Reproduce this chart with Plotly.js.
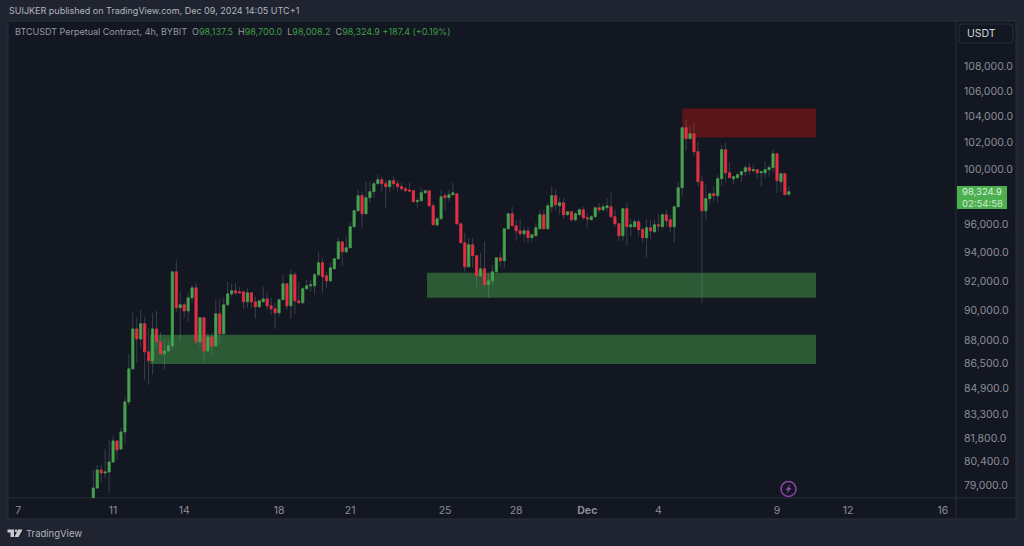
<!DOCTYPE html>
<html>
<head>
<meta charset="utf-8">
<script src="https://cdn.plot.ly/plotly-3.0.1.min.js"></script>
<style>html,body{margin:0;padding:0;background:#1f2430;overflow:hidden}#chart{width:1024px;height:546px}</style>
</head>
<body>
<div id="chart"></div>
<script>
// 4h candles, first one opens 10 Nov 2024 04:00
var firstCandle = Date.UTC(2024, 10, 10, 4);
var candleHours = 4;

var opens = [77830,78820,79890,79710,79770,80370,81640,81150,82190,84050,86150,88760,88100,89100,87250,86670,88760,87900,87120,87310,
87640,92620,90170,90370,89960,90840,91520,87900,89500,87310,88230,87640,89760,88430,90370,91110,91320,91250,91250,90570,
91180,90570,90230,90570,90770,90300,90100,89830,90710,91800,90300,92420,90640,90500,91460,91660,91660,92420,93250,92350,
92000,92830,93530,94720,94020,94300,95790,96940,98040,96720,97890,98330,98920,99210,98920,98700,99140,98920,98700,98550,
98450,98400,97600,97670,98250,98400,97300,95930,96360,98040,97890,98110,98180,96000,94650,92970,94510,93740,92350,92830,
91730,92000,92620,93600,93390,95650,96720,95860,95500,95290,95500,95010,95150,95650,96650,95650,97230,98040,97300,97520,
96650,96870,96290,96650,97010,96440,96290,96510,97160,97010,97160,97230,96510,96000,95150,97090,95790,95790,96150,95580,
95010,95720,95430,95930,95790,96650,96290,95790,97230,98620,103140,102300,102680,101310,99070,96940,97820,98180,98040,99290,
101460,99730,99290,99360,99580,99810,100110,99880,99960,99730,99730,99960,100110,101160,99070,99660,98137.5];
var highs = [79890,80190,80190,81150,81700,81940,81640,82430,84370,87120,89830,89560,90030,89560,88830,89830,89960,88560,88170,88100,
92620,93390,91250,90570,91180,91730,91860,89500,89500,88500,88500,90710,90770,90840,91930,91800,91860,91590,91250,91520,
91180,90910,90640,91590,91250,90840,90500,90710,92420,91800,92760,92620,91930,91590,92070,92070,92550,93950,93600,92620,
93250,93530,95010,94720,95080,96080,97010,98480,98330,99070,99070,99070,99580,99440,99210,99140,99440,99210,98990,98700,
98990,98480,97890,98620,98400,98400,97520,96510,98480,98250,98480,98990,98180,96080,95360,95010,95010,93740,93950,94720,
92550,93110,93600,93950,95650,96800,97230,96290,96290,95790,95790,95220,96080,97010,97010,97520,98700,98550,97890,97890,
96870,96940,96870,97160,97230,96800,96650,97230,97520,97520,97890,98250,97010,96080,97090,97520,96360,96360,96290,95720,
96290,96290,96290,96720,96800,97010,96650,97230,99070,103140,103760,103300,103610,102070,99510,98840,98180,98700,99580,101840,
101990,100480,99440,99730,99810,100330,100480,100410,99960,99810,100560,100330,101460,101160,99660,99730,98700];
var lows = [77830,78760,79180,79410,78530,80310,80490,81090,81460,83860,86090,86540,87510,85440,85130,85760,87580,87060,86090,87180,
87380,89900,87970,89500,89230,90500,87770,87510,86600,87250,87060,87580,87840,88370,90300,90910,91050,91110,90100,90170,
90170,89430,90170,90570,90030,89700,88760,89560,90710,90030,89430,89760,90500,90500,91390,91250,91050,92280,91180,91520,
91930,92760,93460,93040,93950,94300,95790,96870,95650,96650,97520,97890,98840,98330,97160,98330,98480,98330,98400,98330,
98330,97520,97160,97600,98180,97300,95930,95790,96360,96940,97600,98040,96000,94650,92620,92970,92900,91520,92280,91660,
90840,91730,92550,92970,92900,95580,95790,94790,95080,94720,94650,94720,95080,95650,95580,95580,96800,96940,96650,96360,
96580,96150,96150,96650,96290,95720,96290,96440,96800,96940,96870,96440,95790,94790,94790,94440,95150,95790,95080,94650,
93600,94940,95360,95430,95790,95790,95430,94650,97230,97960,101380,102300,101010,98700,90500,96290,97380,97600,97520,98770,
98990,99360,98840,99360,99070,99440,99580,99810,99290,98700,99360,99440,99730,98250,98330,98110,98008.2];
var closes = [78820,79890,79710,79770,80370,81640,81090,82190,84050,86150,88760,88100,89100,87250,86670,88760,87900,87120,87310,87640,
92620,90170,90370,89960,90840,91520,87900,89500,87310,88230,87640,89760,88430,90370,91110,91320,91180,91180,90570,91180,
90570,90230,90640,90770,90300,90100,89830,90710,91800,90300,92420,90640,90500,91460,91660,91730,92420,93250,92280,92000,
92900,93530,94720,94020,94300,95790,96940,98040,96720,97890,98330,98920,99210,98920,98700,99140,98920,98700,98550,98400,
98380,97600,97670,98250,98400,97300,95930,96360,97960,97890,98110,98250,96000,94650,92970,94510,93740,92350,92830,91730,
92000,92620,93600,93390,95650,96720,95860,95500,95290,95500,95010,95220,95720,96650,95650,97300,98040,97380,97520,96650,
96870,96290,96720,97010,96440,96360,96510,97160,97010,97230,97300,96510,96000,95150,97090,95790,95930,96150,95580,95010,
95720,95500,95930,95860,96650,96220,95790,97230,98620,103140,102300,102680,101310,99070,96940,97820,98180,98040,99290,101460,
99730,99360,99440,99580,99810,100110,99880,99960,99730,99810,99960,100110,101160,99140,99660,98110,98324.9];

var priceTicks = [108000,106000,104000,102000,100000,96000,94000,92000,90000,88000,86500,84900,83300,81800,80400,79000];
var priceLabels = ["108,000.0","106,000.0","104,000.0","102,000.0","100,000.0","96,000.0","94,000.0","92,000.0","90,000.0","88,000.0","86,500.0","84,900.0","83,300.0","81,800.0","80,400.0","79,000.0"];
var dateTicks = ["2024-11-07","2024-11-11","2024-11-14","2024-11-18","2024-11-21","2024-11-25","2024-11-28","2024-12-01","2024-12-04","2024-12-09","2024-12-12","2024-12-16"];
var dateLabels = ["7","11","14","18","21","25","28","<b>Dec</b>","4","9","12","16"];

var redZone = {from:"2024-12-05 00:00", to:"2024-12-10 15:30", top:104620, bottom:102380};
var greenZoneUpper = {from:"2024-11-24 05:45", to:"2024-12-10 15:30", top:92550, bottom:90840};
var greenZoneLower = {from:"2024-11-12 13:30", to:"2024-12-10 15:30", top:88370, bottom:86470};

var times = opens.map(function(_, i){ return new Date(firstCandle + i*candleHours*3600000).toISOString(); });
var bodyTop = opens.map(function(v, i){ return Math.max(v, closes[i]); });
var bodyBottom = opens.map(function(v, i){ return Math.min(v, closes[i]); });

var UP = "#43a649", DOWN = "#ee2b40", WICK = "rgba(128,132,148,0.36)";
var W = 1024, H = 546;
var ML = 8, MR = 68, MT = 21, MB = 48;
function px(x){ return (x - ML) / (W - ML - MR); }
function py(y){ return 1 - (y - MT) / (H - MT - MB); }

function zone(z, fill){
  return {type:"rect", xref:"x", yref:"y", layer:"below", x0:z.from, x1:z.to, y0:z.bottom, y1:z.top,
          fillcolor:fill, line:{width:0}};
}
function pline(x0,y0,x1,y1,c){
  return {type:"line", xref:"paper", yref:"paper", layer:"below", x0:px(x0), x1:px(x1), y0:py(y0), y1:py(y1), line:{color:c, width:1}};
}
function pathPx(pts, fill){
  var d = pts.map(function(p,i){ return (i?"L":"M")+px(p[0]).toFixed(5)+" "+py(p[1]).toFixed(5); }).join(" ")+" Z";
  return {type:"path", xref:"paper", yref:"paper", layer:"above", path:d, fillcolor:fill, line:{width:0}};
}
function roundBox(x0,y0,x1,y1,r,color){
  var a=function(x,y){return px(x).toFixed(5)+" "+py(y).toFixed(5);};
  var d="M"+a(x0+r,y0)+" L"+a(x1-r,y0)+" Q"+a(x1,y0)+" "+a(x1,y0+r)+" L"+a(x1,y1-r)+" Q"+a(x1,y1)+" "+a(x1-r,y1)+
        " L"+a(x0+r,y1)+" Q"+a(x0,y1)+" "+a(x0,y1-r)+" L"+a(x0,y0+r)+" Q"+a(x0,y0)+" "+a(x0+r,y0)+" Z";
  return {type:"path", xref:"paper", yref:"paper", layer:"above", path:d, fillcolor:"rgba(0,0,0,0)", line:{color:color, width:1}};
}
function note(text, x, y, size, color, anchor, extra){
  var a = {text:text, xref:"paper", yref:"paper", x:px(x), y:py(y), xanchor:anchor||"left", yanchor:"middle",
           showarrow:false, align:"left", borderpad:0, font:{family:"Inter, 'Noto Sans', sans-serif", size:size, color:color}};
  for (var k in extra) a[k] = extra[k];
  return a;
}

var shapes = [
  {type:"rect", xref:"paper", yref:"paper", layer:"below", x0:px(8), x1:px(1016), y0:py(21), y1:py(519), fillcolor:"#131722", line:{width:0}},
  pline(8,21,1016,21,"#2a2e39"), pline(8,21,8,519,"#2a2e39"), pline(1016,21,1016,519,"#2a2e39"),
  pline(8,519,1016,519,"#2a2e39"), pline(8,498,1016,498,"#2a2e39"), pline(956,21,956,519,"#2a2e39"),
  zone(redZone, "#5a1519"),
  zone(greenZoneUpper, "#2b5a35"),
  zone(greenZoneLower, "#2b5a35"),
  roundBox(959,24,1013,43,3,"#2a2e39"),
  {type:"rect", xref:"paper", yref:"paper", layer:"above", x0:px(957), x1:px(1007), y0:py(186), y1:py(209), fillcolor:"#4caf50", line:{width:0}},
  {type:"circle", xref:"paper", yref:"paper", layer:"above", x0:px(781), x1:px(796), y0:py(481.5), y1:py(496.5), fillcolor:"rgba(0,0,0,0)", line:{color:"#8e44a8", width:1.5}},
  pathPx([[790.5,484],[785.5,490],[788,490],[786.5,494],[791.5,488],[789,488]], "#8e44a8"),
  pathPx([[7.5,529.5],[14,529.5],[14,537],[10.5,537],[10.5,532.5],[7.5,532.5]], "#c8cad0"),
  {type:"circle", xref:"paper", yref:"paper", layer:"above", x0:px(14.8), x1:px(17.2), y0:py(529.6), y1:py(532), fillcolor:"#c8cad0", line:{width:0}},
  pathPx([[18,529.5],[22.5,529.5],[18.5,537],[14.5,537]], "#c8cad0")
];

var header = "BTCUSDT Perpetual Contract, 4h, BYBIT&nbsp;&nbsp;O<span style='color:#3f9d45'>98,137.5</span>&nbsp;&nbsp;H<span style='color:#3f9d45'>98,700.0</span>&nbsp;&nbsp;L<span style='color:#3f9d45'>98,008.2</span>&nbsp;&nbsp;C<span style='color:#3f9d45'>98,324.9 +187.4 (+0.19%)</span>";

var annotations = [
  note("SUIJKER published on TradingView.com, Dec 09, 2024 14:05 UTC+1", 8, 10.5, 9, "#b2b5be"),
  note(header, 14, 32, 9, "#9598a1"),
  note("USDT", 966, 33.5, 10.5, "#d1d4dc"),
  note("98,324.9", 982, 192, 9.5, "#dff0df", "center"),
  note("02:54:58", 982, 203, 9.5, "#cfe8cf", "center"),
  note("TradingView", 25, 533, 9.5, "#b2b5be")
];

var wicks = {
  type:"candlestick", x:times, open:opens, high:highs, low:lows, close:closes, whiskerwidth:0,
  increasing:{line:{color:WICK, width:1}, fillcolor:"rgba(0,0,0,0)"},
  decreasing:{line:{color:WICK, width:1}, fillcolor:"rgba(0,0,0,0)"},
  hoverinfo:"skip", showlegend:false
};
var bodies = {
  type:"candlestick", x:times, open:opens, high:bodyTop, low:bodyBottom, close:closes, whiskerwidth:0,
  increasing:{line:{color:UP, width:0.6}, fillcolor:UP},
  decreasing:{line:{color:DOWN, width:0.6}, fillcolor:DOWN},
  hoverinfo:"skip", showlegend:false
};

var layout = {
  width:W, height:H, margin:{l:ML, r:MR, t:MT, b:MB, pad:0},
  paper_bgcolor:"#1f2430", plot_bgcolor:"#131722",
  showlegend:false, hovermode:false, boxmode:"overlay", boxgap:0.22,
  xaxis:{type:"date", range:["2024-11-06 13:40","2024-12-16 13:12"], rangeslider:{visible:false},
         tickmode:"array", tickvals:dateTicks, ticktext:dateLabels, showgrid:false, zeroline:false, showline:false,
         ticks:"", tickangle:0, tickfont:{family:"Inter, 'Noto Sans', sans-serif", size:10.5, color:"#8b8e98"}, ticklabelstandoff:4},
  yaxis:{type:"log", side:"right", range:[4.8934,5.04801], tickmode:"array", tickvals:priceTicks, ticktext:priceLabels,
         showgrid:false, zeroline:false, showline:false, ticks:"", ticklabelstandoff:7,
         tickfont:{family:"Inter, 'Noto Sans', sans-serif", size:10.5, color:"#8b8e98"}},
  shapes:shapes, annotations:annotations
};

Plotly.newPlot("chart", [wicks, bodies], layout, {displayModeBar:false, staticPlot:true});
</script>
</body>
</html>
